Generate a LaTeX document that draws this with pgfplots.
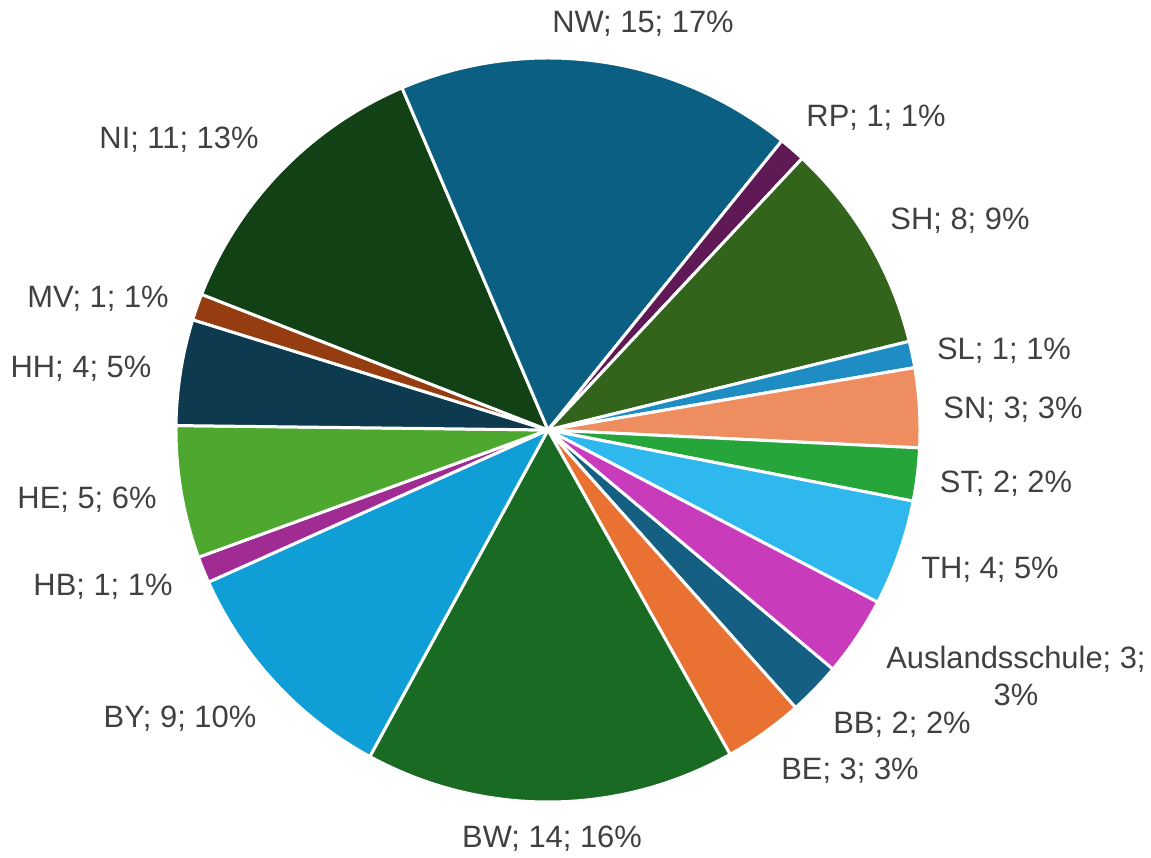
\documentclass[border=0pt]{standalone}
\usepackage{pgfplots}
\pgfplotsset{compat=1.18}
\usepackage{fontspec}
\setmainfont{Liberation Sans}
\definecolor{cBB}{HTML}{156082}
\definecolor{cBE}{HTML}{E97132}
\definecolor{cBW}{HTML}{196B24}
\definecolor{cBY}{HTML}{0F9ED5}
\definecolor{cHB}{HTML}{A02B93}
\definecolor{cHE}{HTML}{4EA72E}
\definecolor{cHH}{HTML}{0D3A4F}
\definecolor{cMV}{HTML}{963C11}
\definecolor{cNI}{HTML}{124116}
\definecolor{cNW}{HTML}{0A5F82}
\definecolor{cRP}{HTML}{5F1A55}
\definecolor{cSH}{HTML}{33641C}
\definecolor{cSL}{HTML}{1D8DC4}
\definecolor{cSN}{HTML}{EE8D5F}
\definecolor{cST}{HTML}{26A63A}
\definecolor{cTH}{HTML}{2EB8EE}
\definecolor{cAU}{HTML}{C83CBB}
\definecolor{txt}{HTML}{404040}
% pie geometry (axis units = reference pixels)
\def\cx{548}\def\cy{428}\def\rr{372}\def\total{87}\def\firstangle{130}
\gdef\cum{0}
\newcommand\slice[2]{%
  \pgfmathsetmacro\sa{90-\firstangle-\cum/\total*360}%
  \pgfmathsetmacro\sb{90-\firstangle-(\cum+#1)/\total*360}%
  \edef\temp{\noexpand\addplot[fill=#2, draw=white, line width=1.5pt, line join=round, domain=\sb:\sa, samples=60, variable=\noexpand\t]
    ({\cx+\rr*cos(\noexpand\t)},{\cy+\rr*sin(\noexpand\t)}) -- (axis cs:\cx,\cy) -- cycle;}%
  \temp
  \pgfmathsetmacro\newcum{\cum+#1}%
  \xdef\cum{\newcum}%
}
\begin{document}
\begin{tikzpicture}
\begin{axis}[
  width=575.5bp, height=429bp, scale only axis,
  xmin=0, xmax=1151, ymin=0, ymax=858,
  hide axis, clip=false,
]
% values in chart order (clockwise)
\slice{2}{cBB}   % BB
\slice{3}{cBE}   % BE
\slice{14}{cBW}  % BW
\slice{9}{cBY}   % BY
\slice{1}{cHB}   % HB
\slice{5}{cHE}   % HE
\slice{4}{cHH}   % HH
\slice{1}{cMV}   % MV
\slice{11}{cNI}  % NI
\slice{15}{cNW}  % NW
\slice{1}{cRP}   % RP
\slice{8}{cSH}   % SH
\slice{1}{cSL}   % SL
\slice{3}{cSN}   % SN
\slice{2}{cST}   % ST
\slice{4}{cTH}   % TH
\slice{3}{cAU}   % Auslandsschule
\begin{scope}[every node/.style={font=\fontsize{15.5}{19}\selectfont, text=txt, inner sep=1pt}]
\node at (axis cs:643,834) {NW; 15; 17\%};
\node at (axis cs:876,740) {RP; 1; 1\%};
\node at (axis cs:960,637) {SH; 8; 9\%};
\node at (axis cs:1004,507) {SL; 1; 1\%};
\node at (axis cs:1013,448) {SN; 3; 3\%};
\node at (axis cs:1006,374) {ST; 2; 2\%};
\node at (axis cs:990,288) {TH; 4; 5\%};
\node[align=center] at (axis cs:1016,182) {Auslandsschule; 3;\\3\%};
\node at (axis cs:902,133) {BB; 2; 2\%};
\node at (axis cs:850,87) {BE; 3; 3\%};
\node at (axis cs:552,19) {BW; 14; 16\%};
\node at (axis cs:180,139) {BY; 9; 10\%};
\node at (axis cs:103,271) {HB; 1; 1\%};
\node at (axis cs:87,358) {HE; 5; 6\%};
\node at (axis cs:81,489) {HH; 4; 5\%};
\node at (axis cs:98,559) {MV; 1; 1\%};
\node at (axis cs:179,718) {NI; 11; 13\%};
\end{scope}
\end{axis}
\pgfresetboundingbox
\useasboundingbox (current axis.south west) rectangle (current axis.north east);
\end{tikzpicture}
\end{document}
